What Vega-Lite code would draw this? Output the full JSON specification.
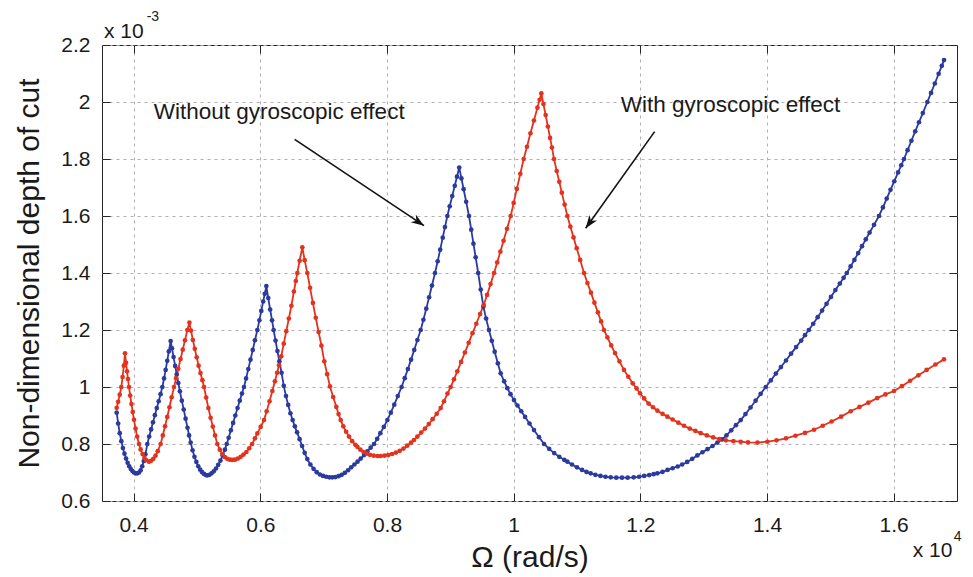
{
"$schema":"https://vega.github.io/schema/vega-lite/v6.json",
"width":855,"height":456,
"autosize":{"type":"none"},
"padding":{"left":102,"top":45,"right":16,"bottom":76},
"background":"white",
"config":{"font":"Liberation Sans","view":{"stroke":"#262626","strokeWidth":1}},
"datasets":{
"curves":[
{"curve":"without","omega":3732,"depth":0.000910},{"curve":"without","omega":3755,"depth":0.000872},{"curve":"without","omega":3780,"depth":0.000838},{"curve":"without","omega":3805,"depth":0.000810},{"curve":"without","omega":3830,"depth":0.000786},{"curve":"without","omega":3855,"depth":0.000766},{"curve":"without","omega":3880,"depth":0.000749},{"curve":"without","omega":3905,"depth":0.000734},{"curve":"without","omega":3930,"depth":0.000722},{"curve":"without","omega":3955,"depth":0.000712},{"curve":"without","omega":3980,"depth":0.000705},{"curve":"without","omega":4005,"depth":0.000700},{"curve":"without","omega":4030,"depth":0.000697},{"curve":"without","omega":4058,"depth":0.000697},{"curve":"without","omega":4085,"depth":0.000700},{"curve":"without","omega":4110,"depth":0.000708},{"curve":"without","omega":4135,"depth":0.000722},{"curve":"without","omega":4160,"depth":0.000740},{"curve":"without","omega":4185,"depth":0.000764},{"curve":"without","omega":4216,"depth":0.000800},{"curve":"without","omega":4245,"depth":0.000826},{"curve":"without","omega":4275,"depth":0.000851},{"curve":"without","omega":4305,"depth":0.000876},{"curve":"without","omega":4335,"depth":0.000901},{"curve":"without","omega":4365,"depth":0.000926},{"curve":"without","omega":4395,"depth":0.000950},{"curve":"without","omega":4425,"depth":0.000975},{"curve":"without","omega":4453,"depth":0.001000},{"curve":"without","omega":4480,"depth":0.001030},{"curve":"without","omega":4505,"depth":0.001060},{"curve":"without","omega":4530,"depth":0.001092},{"curve":"without","omega":4555,"depth":0.001125},{"curve":"without","omega":4584,"depth":0.001161},{"curve":"without","omega":4605,"depth":0.001136},{"curve":"without","omega":4630,"depth":0.001105},{"curve":"without","omega":4655,"depth":0.001074},{"curve":"without","omega":4680,"depth":0.001044},{"curve":"without","omega":4705,"depth":0.001014},{"curve":"without","omega":4730,"depth":0.000985},{"curve":"without","omega":4760,"depth":0.000952},{"curve":"without","omega":4790,"depth":0.000921},{"curve":"without","omega":4820,"depth":0.000889},{"curve":"without","omega":4850,"depth":0.000857},{"curve":"without","omega":4875,"depth":0.000830},{"curve":"without","omega":4900,"depth":0.000805},{"curve":"without","omega":4930,"depth":0.000778},{"curve":"without","omega":4960,"depth":0.000755},{"curve":"without","omega":4990,"depth":0.000737},{"curve":"without","omega":5020,"depth":0.000722},{"curve":"without","omega":5050,"depth":0.000710},{"curve":"without","omega":5080,"depth":0.000701},{"curve":"without","omega":5110,"depth":0.000695},{"curve":"without","omega":5140,"depth":0.000691},{"curve":"without","omega":5163,"depth":0.000690},{"curve":"without","omega":5195,"depth":0.000692},{"curve":"without","omega":5230,"depth":0.000697},{"curve":"without","omega":5265,"depth":0.000704},{"curve":"without","omega":5300,"depth":0.000714},{"curve":"without","omega":5335,"depth":0.000727},{"curve":"without","omega":5370,"depth":0.000742},{"curve":"without","omega":5405,"depth":0.000760},{"curve":"without","omega":5440,"depth":0.000780},{"curve":"without","omega":5469,"depth":0.000800},{"curve":"without","omega":5500,"depth":0.000822},{"curve":"without","omega":5535,"depth":0.000848},{"curve":"without","omega":5570,"depth":0.000874},{"curve":"without","omega":5605,"depth":0.000900},{"curve":"without","omega":5640,"depth":0.000926},{"curve":"without","omega":5675,"depth":0.000952},{"curve":"without","omega":5710,"depth":0.000977},{"curve":"without","omega":5742,"depth":0.001000},{"curve":"without","omega":5775,"depth":0.001030},{"curve":"without","omega":5810,"depth":0.001063},{"curve":"without","omega":5845,"depth":0.001096},{"curve":"without","omega":5880,"depth":0.001130},{"curve":"without","omega":5915,"depth":0.001164},{"curve":"without","omega":5953,"depth":0.001200},{"curve":"without","omega":5985,"depth":0.001234},{"curve":"without","omega":6015,"depth":0.001267},{"curve":"without","omega":6045,"depth":0.001300},{"curve":"without","omega":6070,"depth":0.001327},{"curve":"without","omega":6095,"depth":0.001354},{"curve":"without","omega":6125,"depth":0.001312},{"curve":"without","omega":6155,"depth":0.001272},{"curve":"without","omega":6185,"depth":0.001234},{"curve":"without","omega":6210,"depth":0.001200},{"curve":"without","omega":6240,"depth":0.001163},{"curve":"without","omega":6270,"depth":0.001126},{"curve":"without","omega":6300,"depth":0.001090},{"curve":"without","omega":6335,"depth":0.001050},{"curve":"without","omega":6370,"depth":0.001004},{"curve":"without","omega":6405,"depth":0.000968},{"curve":"without","omega":6440,"depth":0.000937},{"curve":"without","omega":6475,"depth":0.000908},{"curve":"without","omega":6510,"depth":0.000884},{"curve":"without","omega":6545,"depth":0.000862},{"curve":"without","omega":6580,"depth":0.000841},{"curve":"without","omega":6620,"depth":0.000817},{"curve":"without","omega":6660,"depth":0.000793},{"curve":"without","omega":6700,"depth":0.000769},{"curve":"without","omega":6742,"depth":0.000747},{"curve":"without","omega":6790,"depth":0.000728},{"curve":"without","omega":6840,"depth":0.000713},{"curve":"without","omega":6890,"depth":0.000701},{"curve":"without","omega":6940,"depth":0.000693},{"curve":"without","omega":6990,"depth":0.000688},{"curve":"without","omega":7040,"depth":0.000685},{"curve":"without","omega":7090,"depth":0.000683},{"curve":"without","omega":7137,"depth":0.000683},{"curve":"without","omega":7185,"depth":0.000684},{"curve":"without","omega":7235,"depth":0.000687},{"curve":"without","omega":7285,"depth":0.000692},{"curve":"without","omega":7335,"depth":0.000699},{"curve":"without","omega":7385,"depth":0.000708},{"curve":"without","omega":7435,"depth":0.000718},{"curve":"without","omega":7485,"depth":0.000728},{"curve":"without","omega":7535,"depth":0.000738},{"curve":"without","omega":7585,"depth":0.000749},{"curve":"without","omega":7637,"depth":0.000761},{"curve":"without","omega":7690,"depth":0.000774},{"curve":"without","omega":7742,"depth":0.000787},{"curve":"without","omega":7795,"depth":0.000800},{"curve":"without","omega":7845,"depth":0.000818},{"curve":"without","omega":7895,"depth":0.000838},{"curve":"without","omega":7950,"depth":0.000860},{"curve":"without","omega":8006,"depth":0.000884},{"curve":"without","omega":8060,"depth":0.000910},{"curve":"without","omega":8115,"depth":0.000938},{"curve":"without","omega":8170,"depth":0.000968},{"curve":"without","omega":8230,"depth":0.001000},{"curve":"without","omega":8280,"depth":0.001031},{"curve":"without","omega":8330,"depth":0.001063},{"curve":"without","omega":8380,"depth":0.001096},{"curve":"without","omega":8430,"depth":0.001130},{"curve":"without","omega":8480,"depth":0.001165},{"curve":"without","omega":8532,"depth":0.001200},{"curve":"without","omega":8575,"depth":0.001236},{"curve":"without","omega":8620,"depth":0.001275},{"curve":"without","omega":8665,"depth":0.001315},{"curve":"without","omega":8710,"depth":0.001356},{"curve":"without","omega":8758,"depth":0.001400},{"curve":"without","omega":8800,"depth":0.001441},{"curve":"without","omega":8840,"depth":0.001482},{"curve":"without","omega":8880,"depth":0.001524},{"curve":"without","omega":8915,"depth":0.001561},{"curve":"without","omega":8953,"depth":0.001600},{"curve":"without","omega":8990,"depth":0.001634},{"curve":"without","omega":9030,"depth":0.001670},{"curve":"without","omega":9070,"depth":0.001706},{"curve":"without","omega":9105,"depth":0.001738},{"curve":"without","omega":9140,"depth":0.001770},{"curve":"without","omega":9175,"depth":0.001732},{"curve":"without","omega":9210,"depth":0.001694},{"curve":"without","omega":9250,"depth":0.001650},{"curve":"without","omega":9295,"depth":0.001600},{"curve":"without","omega":9330,"depth":0.001552},{"curve":"without","omega":9365,"depth":0.001503},{"curve":"without","omega":9400,"depth":0.001455},{"curve":"without","omega":9440,"depth":0.001400},{"curve":"without","omega":9480,"depth":0.001342},{"curve":"without","omega":9522,"depth":0.001282},{"curve":"without","omega":9565,"depth":0.001240},{"curve":"without","omega":9610,"depth":0.001200},{"curve":"without","omega":9655,"depth":0.001162},{"curve":"without","omega":9700,"depth":0.001124},{"curve":"without","omega":9750,"depth":0.001083},{"curve":"without","omega":9795,"depth":0.001048},{"curve":"without","omega":9850,"depth":0.001020},{"curve":"without","omega":9900,"depth":0.000996},{"curve":"without","omega":9950,"depth":0.000975},{"curve":"without","omega":10005,"depth":0.000954},{"curve":"without","omega":10060,"depth":0.000935},{"curve":"without","omega":10120,"depth":0.000915},{"curve":"without","omega":10180,"depth":0.000895},{"curve":"without","omega":10250,"depth":0.000872},{"curve":"without","omega":10321,"depth":0.000849},{"curve":"without","omega":10400,"depth":0.000824},{"curve":"without","omega":10480,"depth":0.000800},{"curve":"without","omega":10560,"depth":0.000783},{"curve":"without","omega":10640,"depth":0.000768},{"curve":"without","omega":10720,"depth":0.000755},{"curve":"without","omega":10800,"depth":0.000744},{"curve":"without","omega":10848,"depth":0.000738},{"curve":"without","omega":10920,"depth":0.000728},{"curve":"without","omega":11000,"depth":0.000718},{"curve":"without","omega":11080,"depth":0.000709},{"curve":"without","omega":11150,"depth":0.000702},{"curve":"without","omega":11216,"depth":0.000697},{"curve":"without","omega":11290,"depth":0.000692},{"curve":"without","omega":11370,"depth":0.000688},{"curve":"without","omega":11450,"depth":0.000685},{"curve":"without","omega":11532,"depth":0.000683},{"curve":"without","omega":11620,"depth":0.000682},{"curve":"without","omega":11710,"depth":0.000682},{"curve":"without","omega":11800,"depth":0.000682},{"curve":"without","omega":11895,"depth":0.000683},{"curve":"without","omega":11980,"depth":0.000685},{"curve":"without","omega":12060,"depth":0.000688},{"curve":"without","omega":12140,"depth":0.000691},{"curve":"without","omega":12210,"depth":0.000694},{"curve":"without","omega":12269,"depth":0.000697},{"curve":"without","omega":12350,"depth":0.000702},{"curve":"without","omega":12430,"depth":0.000709},{"curve":"without","omega":12510,"depth":0.000715},{"curve":"without","omega":12590,"depth":0.000721},{"curve":"without","omega":12660,"depth":0.000728},{"curve":"without","omega":12740,"depth":0.000737},{"curve":"without","omega":12820,"depth":0.000748},{"curve":"without","omega":12900,"depth":0.000760},{"curve":"without","omega":12980,"depth":0.000771},{"curve":"without","omega":13060,"depth":0.000782},{"curve":"without","omega":13140,"depth":0.000793},{"curve":"without","omega":13217,"depth":0.000805},{"curve":"without","omega":13290,"depth":0.000816},{"curve":"without","omega":13360,"depth":0.000830},{"curve":"without","omega":13435,"depth":0.000848},{"curve":"without","omega":13510,"depth":0.000866},{"curve":"without","omega":13585,"depth":0.000884},{"curve":"without","omega":13660,"depth":0.000905},{"curve":"without","omega":13740,"depth":0.000928},{"curve":"without","omega":13820,"depth":0.000952},{"curve":"without","omega":13900,"depth":0.000976},{"curve":"without","omega":13980,"depth":0.001000},{"curve":"without","omega":14060,"depth":0.001023},{"curve":"without","omega":14140,"depth":0.001047},{"curve":"without","omega":14220,"depth":0.001070},{"curve":"without","omega":14300,"depth":0.001093},{"curve":"without","omega":14380,"depth":0.001117},{"curve":"without","omega":14460,"depth":0.001140},{"curve":"without","omega":14540,"depth":0.001163},{"curve":"without","omega":14600,"depth":0.001182},{"curve":"without","omega":14660,"depth":0.001200},{"curve":"without","omega":14730,"depth":0.001222},{"curve":"without","omega":14800,"depth":0.001245},{"curve":"without","omega":14870,"depth":0.001268},{"curve":"without","omega":14940,"depth":0.001292},{"curve":"without","omega":15010,"depth":0.001316},{"curve":"without","omega":15080,"depth":0.001340},{"curve":"without","omega":15150,"depth":0.001363},{"curve":"without","omega":15210,"depth":0.001383},{"curve":"without","omega":15260,"depth":0.001400},{"curve":"without","omega":15320,"depth":0.001423},{"curve":"without","omega":15380,"depth":0.001446},{"curve":"without","omega":15440,"depth":0.001470},{"curve":"without","omega":15500,"depth":0.001494},{"curve":"without","omega":15560,"depth":0.001518},{"curve":"without","omega":15620,"depth":0.001542},{"curve":"without","omega":15690,"depth":0.001569},{"curve":"without","omega":15768,"depth":0.001600},{"curve":"without","omega":15830,"depth":0.001630},{"curve":"without","omega":15890,"depth":0.001661},{"curve":"without","omega":15950,"depth":0.001692},{"curve":"without","omega":16010,"depth":0.001722},{"curve":"without","omega":16070,"depth":0.001753},{"curve":"without","omega":16120,"depth":0.001778},{"curve":"without","omega":16163,"depth":0.001800},{"curve":"without","omega":16220,"depth":0.001831},{"curve":"without","omega":16280,"depth":0.001864},{"curve":"without","omega":16340,"depth":0.001897},{"curve":"without","omega":16400,"depth":0.001929},{"curve":"without","omega":16460,"depth":0.001961},{"curve":"without","omega":16532,"depth":0.002000},{"curve":"without","omega":16590,"depth":0.002032},{"curve":"without","omega":16650,"depth":0.002065},{"curve":"without","omega":16710,"depth":0.002099},{"curve":"without","omega":16760,"depth":0.002127},{"curve":"without","omega":16795,"depth":0.002147},
{"curve":"with","omega":3732,"depth":0.000927},{"curve":"with","omega":3755,"depth":0.000948},{"curve":"with","omega":3780,"depth":0.000973},{"curve":"with","omega":3805,"depth":0.001000},{"curve":"with","omega":3825,"depth":0.001035},{"curve":"with","omega":3845,"depth":0.001075},{"curve":"with","omega":3863,"depth":0.001118},{"curve":"with","omega":3880,"depth":0.001085},{"curve":"with","omega":3895,"depth":0.001055},{"curve":"with","omega":3910,"depth":0.001028},{"curve":"with","omega":3926,"depth":0.001000},{"curve":"with","omega":3945,"depth":0.000970},{"curve":"with","omega":3965,"depth":0.000940},{"curve":"with","omega":3985,"depth":0.000912},{"curve":"with","omega":4005,"depth":0.000885},{"curve":"with","omega":4030,"depth":0.000854},{"curve":"with","omega":4055,"depth":0.000826},{"curve":"with","omega":4084,"depth":0.000800},{"curve":"with","omega":4110,"depth":0.000781},{"curve":"with","omega":4140,"depth":0.000765},{"curve":"with","omega":4170,"depth":0.000752},{"curve":"with","omega":4200,"depth":0.000743},{"curve":"with","omega":4242,"depth":0.000738},{"curve":"with","omega":4275,"depth":0.000741},{"curve":"with","omega":4310,"depth":0.000748},{"curve":"with","omega":4345,"depth":0.000759},{"curve":"with","omega":4380,"depth":0.000775},{"curve":"with","omega":4426,"depth":0.000800},{"curve":"with","omega":4460,"depth":0.000830},{"curve":"with","omega":4495,"depth":0.000862},{"curve":"with","omega":4530,"depth":0.000895},{"curve":"with","omega":4565,"depth":0.000929},{"curve":"with","omega":4600,"depth":0.000964},{"curve":"with","omega":4637,"depth":0.001000},{"curve":"with","omega":4670,"depth":0.001031},{"curve":"with","omega":4705,"depth":0.001064},{"curve":"with","omega":4740,"depth":0.001098},{"curve":"with","omega":4775,"depth":0.001131},{"curve":"with","omega":4810,"depth":0.001164},{"curve":"with","omega":4848,"depth":0.001200},{"curve":"with","omega":4880,"depth":0.001226},{"curve":"with","omega":4905,"depth":0.001198},{"curve":"with","omega":4935,"depth":0.001165},{"curve":"with","omega":4965,"depth":0.001134},{"curve":"with","omega":4995,"depth":0.001104},{"curve":"with","omega":5025,"depth":0.001075},{"curve":"with","omega":5055,"depth":0.001049},{"curve":"with","omega":5085,"depth":0.001024},{"curve":"with","omega":5111,"depth":0.001000},{"curve":"with","omega":5145,"depth":0.000963},{"curve":"with","omega":5180,"depth":0.000926},{"curve":"with","omega":5215,"depth":0.000892},{"curve":"with","omega":5250,"depth":0.000861},{"curve":"with","omega":5285,"depth":0.000830},{"curve":"with","omega":5321,"depth":0.000800},{"curve":"with","omega":5360,"depth":0.000780},{"curve":"with","omega":5400,"depth":0.000765},{"curve":"with","omega":5440,"depth":0.000754},{"curve":"with","omega":5480,"depth":0.000748},{"curve":"with","omega":5520,"depth":0.000745},{"curve":"with","omega":5558,"depth":0.000744},{"curve":"with","omega":5600,"depth":0.000745},{"curve":"with","omega":5645,"depth":0.000749},{"curve":"with","omega":5690,"depth":0.000755},{"curve":"with","omega":5735,"depth":0.000763},{"curve":"with","omega":5780,"depth":0.000772},{"curve":"with","omega":5825,"depth":0.000785},{"curve":"with","omega":5870,"depth":0.000800},{"curve":"with","omega":5915,"depth":0.000820},{"curve":"with","omega":5953,"depth":0.000837},{"curve":"with","omega":6005,"depth":0.000860},{"curve":"with","omega":6058,"depth":0.000884},{"curve":"with","omega":6100,"depth":0.000915},{"curve":"with","omega":6145,"depth":0.000950},{"curve":"with","omega":6190,"depth":0.000986},{"curve":"with","omega":6230,"depth":0.001020},{"curve":"with","omega":6265,"depth":0.001050},{"curve":"with","omega":6295,"depth":0.001076},{"curve":"with","omega":6330,"depth":0.001108},{"curve":"with","omega":6370,"depth":0.001152},{"curve":"with","omega":6410,"depth":0.001196},{"curve":"with","omega":6450,"depth":0.001240},{"curve":"with","omega":6490,"depth":0.001285},{"curve":"with","omega":6530,"depth":0.001335},{"curve":"with","omega":6560,"depth":0.001372},{"curve":"with","omega":6584,"depth":0.001400},{"curve":"with","omega":6620,"depth":0.001443},{"curve":"with","omega":6663,"depth":0.001490},{"curve":"with","omega":6700,"depth":0.001445},{"curve":"with","omega":6742,"depth":0.001400},{"curve":"with","omega":6785,"depth":0.001348},{"curve":"with","omega":6830,"depth":0.001295},{"curve":"with","omega":6875,"depth":0.001243},{"curve":"with","omega":6920,"depth":0.001193},{"curve":"with","omega":6965,"depth":0.001145},{"curve":"with","omega":7010,"depth":0.001090},{"curve":"with","omega":7055,"depth":0.001045},{"curve":"with","omega":7100,"depth":0.001002},{"curve":"with","omega":7150,"depth":0.000965},{"curve":"with","omega":7200,"depth":0.000930},{"curve":"with","omega":7235,"depth":0.000905},{"curve":"with","omega":7269,"depth":0.000884},{"curve":"with","omega":7310,"depth":0.000862},{"curve":"with","omega":7355,"depth":0.000843},{"curve":"with","omega":7400,"depth":0.000826},{"curve":"with","omega":7450,"depth":0.000810},{"curve":"with","omega":7500,"depth":0.000797},{"curve":"with","omega":7532,"depth":0.000790},{"curve":"with","omega":7580,"depth":0.000780},{"curve":"with","omega":7630,"depth":0.000772},{"curve":"with","omega":7680,"depth":0.000766},{"curve":"with","omega":7730,"depth":0.000762},{"curve":"with","omega":7790,"depth":0.000759},{"curve":"with","omega":7850,"depth":0.000758},{"curve":"with","omega":7900,"depth":0.000758},{"curve":"with","omega":7960,"depth":0.000759},{"curve":"with","omega":8020,"depth":0.000761},{"curve":"with","omega":8080,"depth":0.000765},{"curve":"with","omega":8140,"depth":0.000770},{"curve":"with","omega":8200,"depth":0.000776},{"curve":"with","omega":8260,"depth":0.000784},{"curve":"with","omega":8320,"depth":0.000794},{"curve":"with","omega":8380,"depth":0.000805},{"curve":"with","omega":8426,"depth":0.000814},{"curve":"with","omega":8480,"depth":0.000826},{"curve":"with","omega":8540,"depth":0.000840},{"curve":"with","omega":8600,"depth":0.000854},{"curve":"with","omega":8660,"depth":0.000870},{"curve":"with","omega":8720,"depth":0.000887},{"curve":"with","omega":8785,"depth":0.000906},{"curve":"with","omega":8848,"depth":0.000926},{"curve":"with","omega":8900,"depth":0.000950},{"curve":"with","omega":8955,"depth":0.000977},{"curve":"with","omega":9005,"depth":0.001000},{"curve":"with","omega":9058,"depth":0.001027},{"curve":"with","omega":9110,"depth":0.001055},{"curve":"with","omega":9170,"depth":0.001088},{"curve":"with","omega":9230,"depth":0.001121},{"curve":"with","omega":9290,"depth":0.001155},{"curve":"with","omega":9350,"depth":0.001189},{"curve":"with","omega":9410,"depth":0.001222},{"curve":"with","omega":9470,"depth":0.001256},{"curve":"with","omega":9527,"depth":0.001288},{"curve":"with","omega":9580,"depth":0.001323},{"curve":"with","omega":9635,"depth":0.001361},{"curve":"with","omega":9690,"depth":0.001400},{"curve":"with","omega":9740,"depth":0.001437},{"curve":"with","omega":9790,"depth":0.001475},{"curve":"with","omega":9840,"depth":0.001513},{"curve":"with","omega":9895,"depth":0.001555},{"curve":"with","omega":9953,"depth":0.001600},{"curve":"with","omega":10000,"depth":0.001646},{"curve":"with","omega":10050,"depth":0.001695},{"curve":"with","omega":10105,"depth":0.001748},{"curve":"with","omega":10158,"depth":0.001800},{"curve":"with","omega":10210,"depth":0.001843},{"curve":"with","omega":10265,"depth":0.001890},{"curve":"with","omega":10320,"depth":0.001935},{"curve":"with","omega":10375,"depth":0.001980},{"curve":"with","omega":10410,"depth":0.002008},{"curve":"with","omega":10437,"depth":0.002030},{"curve":"with","omega":10470,"depth":0.001993},{"curve":"with","omega":10505,"depth":0.001954},{"curve":"with","omega":10540,"depth":0.001914},{"curve":"with","omega":10575,"depth":0.001874},{"curve":"with","omega":10605,"depth":0.001840},{"curve":"with","omega":10637,"depth":0.001800},{"curve":"with","omega":10680,"depth":0.001758},{"curve":"with","omega":10720,"depth":0.001720},{"curve":"with","omega":10760,"depth":0.001682},{"curve":"with","omega":10805,"depth":0.001640},{"curve":"with","omega":10848,"depth":0.001600},{"curve":"with","omega":10895,"depth":0.001563},{"curve":"with","omega":10945,"depth":0.001525},{"curve":"with","omega":10995,"depth":0.001487},{"curve":"with","omega":11050,"depth":0.001446},{"curve":"with","omega":11111,"depth":0.001400},{"curve":"with","omega":11165,"depth":0.001365},{"curve":"with","omega":11220,"depth":0.001331},{"curve":"with","omega":11275,"depth":0.001296},{"curve":"with","omega":11330,"depth":0.001262},{"curve":"with","omega":11380,"depth":0.001230},{"curve":"with","omega":11426,"depth":0.001200},{"curve":"with","omega":11480,"depth":0.001174},{"curve":"with","omega":11540,"depth":0.001146},{"curve":"with","omega":11600,"depth":0.001119},{"curve":"with","omega":11670,"depth":0.001090},{"curve":"with","omega":11742,"depth":0.001060},{"curve":"with","omega":11810,"depth":0.001036},{"curve":"with","omega":11880,"depth":0.001013},{"curve":"with","omega":11940,"depth":0.000995},{"curve":"with","omega":11995,"depth":0.000978},{"curve":"with","omega":12060,"depth":0.000960},{"curve":"with","omega":12130,"depth":0.000942},{"curve":"with","omega":12200,"depth":0.000929},{"curve":"with","omega":12270,"depth":0.000917},{"curve":"with","omega":12350,"depth":0.000906},{"curve":"with","omega":12427,"depth":0.000896},{"curve":"with","omega":12510,"depth":0.000886},{"curve":"with","omega":12600,"depth":0.000875},{"curve":"with","omega":12690,"depth":0.000864},{"curve":"with","omega":12780,"depth":0.000854},{"curve":"with","omega":12870,"depth":0.000846},{"curve":"with","omega":12953,"depth":0.000838},{"curve":"with","omega":13050,"depth":0.000830},{"curve":"with","omega":13150,"depth":0.000823},{"curve":"with","omega":13250,"depth":0.000817},{"curve":"with","omega":13350,"depth":0.000813},{"curve":"with","omega":13470,"depth":0.000810},{"curve":"with","omega":13585,"depth":0.000808},{"curve":"with","omega":13700,"depth":0.000806},{"curve":"with","omega":13850,"depth":0.000805},{"curve":"with","omega":14005,"depth":0.000808},{"curve":"with","omega":14150,"depth":0.000813},{"curve":"with","omega":14300,"depth":0.000820},{"curve":"with","omega":14450,"depth":0.000829},{"curve":"with","omega":14600,"depth":0.000839},{"curve":"with","omega":14742,"depth":0.000850},{"curve":"with","omega":14880,"depth":0.000864},{"curve":"with","omega":15020,"depth":0.000879},{"curve":"with","omega":15170,"depth":0.000896},{"curve":"with","omega":15321,"depth":0.000915},{"curve":"with","omega":15460,"depth":0.000930},{"curve":"with","omega":15600,"depth":0.000945},{"curve":"with","omega":15740,"depth":0.000961},{"curve":"with","omega":15870,"depth":0.000974},{"curve":"with","omega":16005,"depth":0.000986},{"curve":"with","omega":16130,"depth":0.001003},{"curve":"with","omega":16260,"depth":0.001022},{"curve":"with","omega":16390,"depth":0.001041},{"curve":"with","omega":16520,"depth":0.001060},{"curve":"with","omega":16660,"depth":0.001079},{"curve":"with","omega":16795,"depth":0.001097}
],
"notes":[
{"label":"Without gyroscopic effect","omega":4316,"depth":0.001964},
{"label":"With gyroscopic effect","omega":11690,"depth":0.0019895}
],
"arrows":[
{"name":"without","from_omega":6542,"from_depth":0.001869,"to_omega":8584,"to_depth":0.001566},
{"name":"with","from_omega":12226,"from_depth":0.001896,"to_omega":11137,"to_depth":0.001557}
],
"multipliers":[
{"part":"base","text":"x 10","omega":3532,"depth":0.0022456},
{"part":"sup","text":"-3","omega":4205,"depth":0.002298},
{"part":"base","text":"x 10","omega":16301,"depth":0.0004246},
{"part":"sup","text":"4","omega":16948,"depth":0.0004737}
]
},
"resolve":{"axis":{"x":"independent","y":"independent"}},
"layer":[
{
"data":{"name":"curves"},
"mark":{"type":"line","strokeWidth":1.8,"clip":true},
"encoding":{
"x":{"field":"omega","type":"quantitative","scale":{"domain":[3500,17000],"nice":false,"zero":false},
"axis":{"orient":"bottom","values":[4000,6000,8000,10000,12000,14000,16000],"labelExpr":"format(datum.value/10000,'.1~f')","title":"Ω (rad/s)","grid":true,"gridDash":[3,4],"gridColor":"#b0b0b0","gridWidth":1,"domain":false,"ticks":true,"tickSize":-8,"tickColor":"#262626","tickWidth":1,"labelPadding":21,"labelFontSize":21,"labelColor":"#1a1a1a","labelFlush":false,"labelOverlap":false,"titleFontSize":30,"titleFontWeight":"normal","titleColor":"#1a1a1a","titlePadding":7}},
"y":{"field":"depth","type":"quantitative","scale":{"domain":[0.0006,0.0022],"nice":false,"zero":false},
"axis":{"orient":"left","values":[0.0006,0.0008,0.001,0.0012,0.0014,0.0016,0.0018,0.002,0.0022],"labelExpr":"format(datum.value*1000,'.1~f')","title":"Non-dimensional depth of cut","grid":true,"gridDash":[3,4],"gridColor":"#b0b0b0","gridWidth":1,"domain":false,"ticks":true,"tickSize":-8,"tickColor":"#262626","tickWidth":1,"labelPadding":20,"labelFontSize":21,"labelColor":"#1a1a1a","labelFlush":false,"labelOverlap":false,"titleFontSize":30,"titleFontWeight":"normal","titleColor":"#1a1a1a","titlePadding":16}},
"color":{"field":"curve","type":"nominal","scale":{"domain":["without","with"],"range":["#2b3a9e","#e3321d"]},"legend":null},
"order":{"field":"omega","type":"quantitative"}
}
},
{
"data":{"name":"curves"},
"mark":{"type":"circle","size":22,"opacity":1,"clip":true},
"encoding":{
"x":{"field":"omega","type":"quantitative","axis":{"orient":"top","values":[4000,6000,8000,10000,12000,14000,16000],"labels":false,"grid":false,"domain":false,"tickSize":-8,"tickColor":"#262626","title":null}},
"y":{"field":"depth","type":"quantitative","axis":{"orient":"right","values":[0.0006,0.0008,0.001,0.0012,0.0014,0.0016,0.0018,0.002,0.0022],"labels":false,"grid":false,"domain":false,"tickSize":-8,"tickColor":"#262626","title":null}},
"color":{"field":"curve","type":"nominal","scale":{"domain":["without","with"],"range":["#2b3a9e","#e3321d"]},"legend":null}
}
},
{
"data":{"name":"arrows"},
"mark":{"type":"rule","color":"#111111","strokeWidth":1.6},
"encoding":{
"x":{"field":"from_omega","type":"quantitative","axis":null},
"y":{"field":"from_depth","type":"quantitative","axis":null},
"x2":{"field":"to_omega"},
"y2":{"field":"to_depth"}
}
},
{
"data":{"name":"arrows"},
"transform":[{"filter":"datum.name==='without'"}],
"mark":{"type":"point","shape":"M0,0 L-1,-0.36 L-0.7,0 L-1,0.36 Z","filled":true,"color":"#111111","opacity":1,"size":676,"angle":33.7,"strokeWidth":0},
"encoding":{
"x":{"field":"to_omega","type":"quantitative","axis":null},
"y":{"field":"to_depth","type":"quantitative","axis":null}
}
},
{
"data":{"name":"arrows"},
"transform":[{"filter":"datum.name==='with'"}],
"mark":{"type":"point","shape":"M0,0 L-1,-0.36 L-0.7,0 L-1,0.36 Z","filled":true,"color":"#111111","opacity":1,"size":676,"angle":125.5,"strokeWidth":0},
"encoding":{
"x":{"field":"to_omega","type":"quantitative","axis":null},
"y":{"field":"to_depth","type":"quantitative","axis":null}
}
},
{
"data":{"name":"notes"},
"mark":{"type":"text","align":"left","baseline":"middle","fontSize":22.5,"color":"#1a1a1a"},
"encoding":{
"x":{"field":"omega","type":"quantitative","axis":null},
"y":{"field":"depth","type":"quantitative","axis":null},
"text":{"field":"label"}
}
},
{
"data":{"name":"multipliers"},
"transform":[{"filter":"datum.part==='base'"}],
"mark":{"type":"text","align":"left","baseline":"middle","fontSize":21,"color":"#1a1a1a"},
"encoding":{
"x":{"field":"omega","type":"quantitative","axis":null},
"y":{"field":"depth","type":"quantitative","axis":null},
"text":{"field":"text"}
}
},
{
"data":{"name":"multipliers"},
"transform":[{"filter":"datum.part==='sup'"}],
"mark":{"type":"text","align":"left","baseline":"middle","fontSize":14,"color":"#1a1a1a"},
"encoding":{
"x":{"field":"omega","type":"quantitative","axis":null},
"y":{"field":"depth","type":"quantitative","axis":null},
"text":{"field":"text"}
}
}
]
}
